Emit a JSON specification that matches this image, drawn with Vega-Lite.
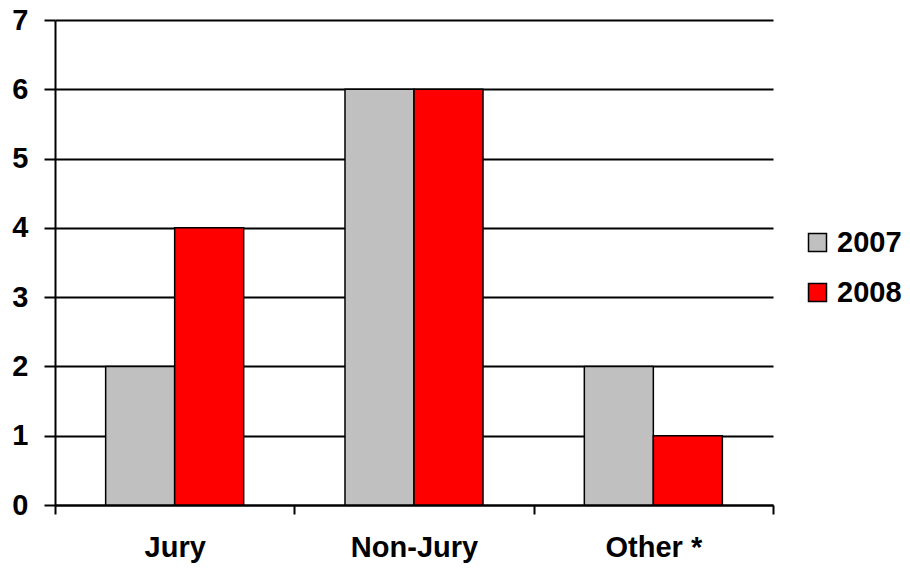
{
  "$schema": "https://vega.github.io/schema/vega-lite/v6.json",
  "width": 718,
  "height": 485,
  "autosize": {"type": "none"},
  "padding": {"left": 55, "top": 20, "right": 137, "bottom": 68},
  "background": "white",
  "config": {
    "view": {"stroke": null},
    "font": "Liberation Sans"
  },
  "data": {
    "values": [
      {"category": "Jury", "year": "2007", "value": 2},
      {"category": "Jury", "year": "2008", "value": 4},
      {"category": "Non-Jury", "year": "2007", "value": 6},
      {"category": "Non-Jury", "year": "2008", "value": 6},
      {"category": "Other *", "year": "2007", "value": 2},
      {"category": "Other *", "year": "2008", "value": 1}
    ]
  },
  "mark": {"type": "bar", "stroke": "black", "strokeWidth": 1.5},
  "encoding": {
    "x": {
      "field": "category",
      "type": "nominal",
      "sort": ["Jury", "Non-Jury", "Other *"],
      "scale": {"paddingInner": 0, "paddingOuter": 0},
      "axis": {
        "title": null,
        "labelAngle": 0,
        "labelFont": "Liberation Sans",
        "labelFontSize": 29,
        "labelFontWeight": "bold",
        "labelColor": "black",
        "labelPadding": 19,
        "tickBand": "extent",
        "tickSize": 9,
        "tickWidth": 2,
        "tickColor": "black",
        "domainColor": "black",
        "domainWidth": 2,
        "grid": false
      }
    },
    "xOffset": {
      "field": "year",
      "type": "nominal",
      "scale": {"paddingInner": 0, "paddingOuter": 0.734}
    },
    "y": {
      "field": "value",
      "type": "quantitative",
      "scale": {"domain": [0, 7], "nice": false},
      "axis": {
        "title": null,
        "values": [0, 1, 2, 3, 4, 5, 6, 7],
        "labelFont": "Liberation Sans",
        "labelFontSize": 29,
        "labelFontWeight": "bold",
        "labelColor": "black",
        "labelPadding": 16,
        "tickSize": 11,
        "tickWidth": 2,
        "tickColor": "black",
        "domainColor": "black",
        "domainWidth": 2,
        "grid": true,
        "gridColor": "black",
        "gridWidth": 2,
        "gridOpacity": 1
      }
    },
    "color": {
      "field": "year",
      "type": "nominal",
      "scale": {"domain": ["2007", "2008"], "range": ["#C0C0C0", "#FF0000"]},
      "legend": {
        "title": null,
        "orient": "none",
        "legendX": 748,
        "legendY": 208,
        "symbolType": "square",
        "symbolSize": 324,
        "symbolStrokeColor": "black",
        "symbolStrokeWidth": 1.5,
        "symbolOpacity": 1,
        "labelFont": "Liberation Sans",
        "labelFontSize": 29,
        "labelFontWeight": "bold",
        "labelColor": "black",
        "labelOffset": 5,
        "rowPadding": 20
      }
    }
  }
}
